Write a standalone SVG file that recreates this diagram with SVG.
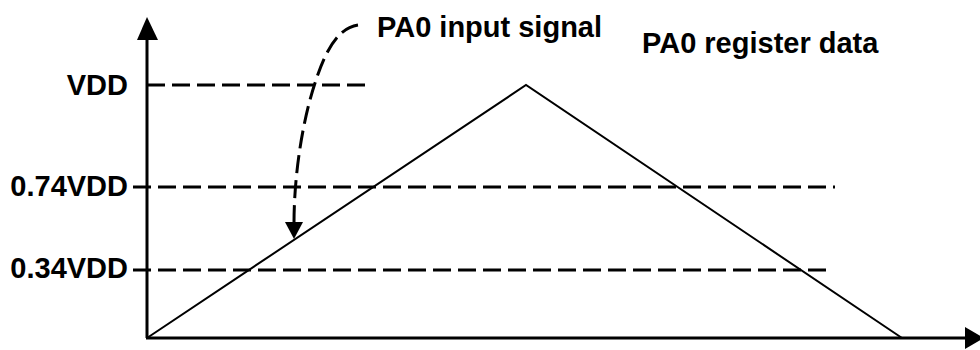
<svg xmlns="http://www.w3.org/2000/svg" width="980" height="350" viewBox="0 0 980 350">
<style>
.lbl{font-family:"Liberation Sans",Arial,sans-serif;font-weight:bold;font-size:29px;fill:#000}
.axis{stroke:#000;stroke-width:3;fill:none}
.dash{stroke:#000;stroke-width:3;fill:none;stroke-dasharray:18 7}
.sig{stroke:#000;stroke-width:2;fill:none}
</style>
<rect width="980" height="350" fill="#fff"/>
<g id="axes">
<line class="axis" x1="147" y1="338" x2="147" y2="36"/>
<polygon points="137,40 158,40 147,17" fill="#000"/>
<line class="axis" x1="146" y1="338" x2="968" y2="338"/>
<polygon points="965,327 965,349 984,338" fill="#000"/>
</g>
<g id="levels">
<line class="dash" x1="147" y1="85" x2="367" y2="85"/>
<line class="dash" x1="133" y1="187" x2="835" y2="187"/>
<line class="dash" x1="133" y1="270" x2="833" y2="270"/>
<text class="lbl" x="128" y="95" text-anchor="end">VDD</text>
<text class="lbl" x="128" y="196" text-anchor="end">0.74VDD</text>
<text class="lbl" x="128" y="278" text-anchor="end">0.34VDD</text>
</g>
<g id="signal">
<polyline class="sig" points="147,338 526,85 902,338"/>
</g>
<g id="connectors">
<path class="dash" stroke-width="2.5" stroke-dasharray="13 7" d="M358,25 C338,28 326,50 316,80 C304,115 294,170 294,224"/>
<polygon points="285,222 303,222 294,239" fill="#000"/>
</g>
<g id="labels">
<text class="lbl" x="377" y="37">PA0 input signal</text>
<text class="lbl" x="642" y="53">PA0 register data</text>
</g>
</svg>
